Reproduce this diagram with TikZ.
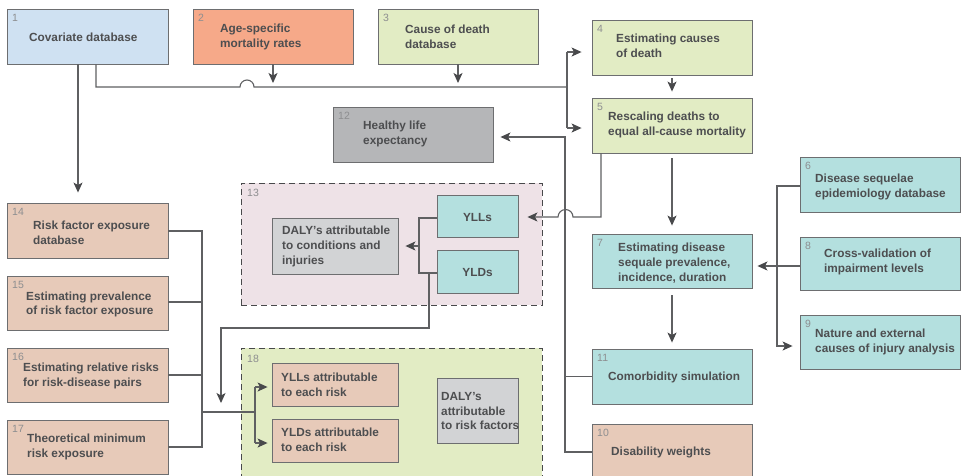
\documentclass[tikz,border=0pt]{standalone}
\usepackage{fontspec}
\setmainfont{Liberation Sans}
\usetikzlibrary{arrows.meta,fit}
\definecolor{cblue}{HTML}{CFE1F2}
\definecolor{csalmon}{HTML}{F6A989}
\definecolor{cgreen}{HTML}{E2ECC4}
\definecolor{cgray}{HTML}{B5B6B8}
\definecolor{cpink}{HTML}{EEE2E7}
\definecolor{cteal}{HTML}{B4E0DF}
\definecolor{ctan}{HTML}{E7CAB9}
\definecolor{clgray}{HTML}{D2D3D5}
\definecolor{cborder}{HTML}{6D6E70}
\definecolor{cline}{HTML}{5F6062}
\definecolor{carrow}{HTML}{48494B}
\definecolor{ctext}{HTML}{4D4E50}
\definecolor{cnum}{HTML}{8D8E90}
\newcommand\gbox[6]{\node[box, fill=#6, fit={(#2,#3) (#4,#5)}] (#1) {};}
\newcommand\gdash[6]{\node[dbox, fill=#6, fit={(#2,#3) (#4,#5)}] (#1) {};}
\begin{document}
\begin{tikzpicture}[x=1pt,y=-1pt,
  box/.style={draw=cborder, line width=0.9pt, inner sep=0pt, rectangle},
  dbox/.style={draw=carrow, line width=1pt, dash pattern=on 6pt off 4pt, inner sep=0pt, rectangle},
  txt/.style={anchor=west, inner sep=0pt, align=left, text=ctext,
    font=\fontsize{11.8}{14.8}\selectfont\bfseries},
  num/.style={anchor=north west, inner sep=0pt, text=cnum,
    font=\fontsize{10.5}{12}\selectfont},
  line/.style={draw=cline, line width=1.1pt},
  arr/.style={line, -{Stealth[length=10pt,width=9pt,inset=2.5pt,color=carrow]}}]
\clip (0,0) rectangle (963,475);
\fill[white] (0,0) rectangle (963,475);
% groups
\gdash{g13}{241}{183}{542}{305}{cpink}
\gdash{g18}{241}{348}{542}{490}{cgreen}
% boxes
\gbox{b1}{7}{9}{168}{64}{cblue}
\gbox{b2}{193}{9}{353}{64}{csalmon}
\gbox{b3}{378}{9}{538}{64}{cgreen}
\gbox{b4}{592}{20}{752}{75}{cgreen}
\gbox{b5}{592}{98}{752}{153}{cgreen}
\gbox{b12}{333}{107}{493}{162}{cgray}
\gbox{yll}{437}{195}{518}{237}{cteal}
\gbox{yld}{437}{250}{518}{293}{cteal}
\gbox{d13}{272}{218}{398}{274}{clgray}
\gbox{b6}{800}{157}{960}{212}{cteal}
\gbox{b7}{592}{234}{752}{288}{cteal}
\gbox{b8}{800}{237}{960}{290}{cteal}
\gbox{b9}{800}{315}{960}{369}{cteal}
\gbox{b11}{592}{349}{752}{404}{cteal}
\gbox{b10}{592}{424}{752}{480}{ctan}
\gbox{b14}{7}{203}{168}{258}{ctan}
\gbox{b15}{7}{276}{168}{330}{ctan}
\gbox{b16}{7}{348}{168}{402}{ctan}
\gbox{b17}{7}{420}{168}{474}{ctan}
\gbox{ylla}{272}{363}{398}{406}{ctan}
\gbox{ylda}{272}{419}{398}{462}{ctan}
\gbox{d18}{437}{378}{518}{443}{clgray}
% texts
\node[txt] (b1t) at (29,37) {Covariate database};
\node[txt] (b2t) at (220,37) {Age-specific\\mortality rates};
\node[txt] (b3t) at (405,37) {Cause of death\\database};
\node[txt] (b4t) at (616,46) {Estimating causes\\of death};
\node[txt] (b5t) at (608,125) {Rescaling deaths to\\equal all-cause mortality};
\node[txt] (b12t) at (363,134) {Healthy life\\expectancy};
\node[txt, anchor=center] (yllt) at (477.5,217) {YLLs};
\node[txt, anchor=center] (yldt) at (477.5,272) {YLDs};
\node[txt] (d13t) at (282,246.5) {DALY’s attributable\\to conditions and\\injuries};
\node[txt] (b6t) at (815,187) {Disease sequelae\\epidemiology database};
\node[txt] (b7t) at (618,263) {Estimating disease\\sequale prevalence,\\incidence, duration};
\node[txt] (b8t) at (824,262) {Cross-validation of\\impairment levels};
\node[txt] (b9t) at (815,342) {Nature and external\\causes of injury analysis};
\node[txt] (b11t) at (608,377) {Comorbidity simulation};
\node[txt] (b10t) at (611,452) {Disability weights};
\node[txt] (b14t) at (33,233) {Risk factor exposure\\database};
\node[txt] (b15t) at (26,304.5) {Estimating prevalence\\of risk factor exposure};
\node[txt] (b16t) at (23,376) {Estimating relative risks\\for risk-disease pairs};
\node[txt] (b17t) at (27,447) {Theoretical minimum\\risk exposure};
\node[txt] (ylat) at (281,385) {YLLs attributable\\to each risk};
\node[txt] (ydat) at (281,440) {YLDs attributable\\to each risk};
\node[txt] (d18t) at (441,411) {DALY’s\\attributable\\to risk factors};
% numbers
\node[num] (b1n) at (12,14) {1};
\node[num] (b2n) at (198,14) {2};
\node[num] (b3n) at (383,14) {3};
\node[num] (b4n) at (597,25) {4};
\node[num] (b5n) at (597,103) {5};
\node[num] (b6n) at (805,162) {6};
\node[num] (b7n) at (597,239) {7};
\node[num] (b8n) at (805,242) {8};
\node[num] (b9n) at (805,320) {9};
\node[num] (b10n) at (597,429) {10};
\node[num] (b11n) at (597,354) {11};
\node[num] (b12n) at (338,112) {12};
\node[num] (g13n) at (247,189) {13};
\node[num] (b14n) at (12,208) {14};
\node[num] (b15n) at (12,281) {15};
\node[num] (b16n) at (12,353) {16};
\node[num] (b17n) at (12,425) {17};
\node[num] (g18n) at (247,355) {18};
% junction coordinates
\coordinate (j1) at (78,0);
\coordinate (j2) at (96,87);
\coordinate (j3) at (567,87);
\coordinate (k4) at (567,52);
\coordinate (k5) at (567,128);
\coordinate (j4) at (273,0);
\coordinate (j4b) at (458,0);
\coordinate (j5) at (601,217);
\coordinate (j6) at (565,137);
\coordinate (j7) at (565,452);
\coordinate (j8) at (419,246);
\coordinate (j8a) at (419,218);
\coordinate (j8b) at (419,273);
\coordinate (j9) at (429,273);
\coordinate (j10) at (429,328);
\coordinate (j11) at (221,328);
\coordinate (j12) at (255,412);
\coordinate (r1) at (202,231);
\coordinate (r2) at (202,302);
\coordinate (r3) at (202,375);
\coordinate (r4) at (202,447);
\coordinate (r5) at (202,412);
\coordinate (a1) at (255,387);
\coordinate (a2) at (255,443);
\coordinate (s1) at (777,186);
\coordinate (s2) at (777,346);
\coordinate (s3) at (777,266);
% connectors
\draw[arr, shorten >=10pt] (b1.south -| j1) -- (b14.north -| j1);
\draw[line] (b1.south -| j2) -- (j2) -- (240,87) arc[start angle=180, end angle=0, radius=7pt] -- (j3);
\draw[line] (k4) -- (k5);
\draw[arr, shorten >=10pt] (k4) -- (k4 -| b4.west);
\draw[arr, shorten >=10pt] (k5) -- (k5 -| b5.west);
\draw[arr, shorten >=4pt] (b2.south -| j4) -- (j4 |- j2);
\draw[arr, shorten >=4pt] (b3.south -| j4b) -- (j4b |- j2);
\draw[arr, shorten <=3pt, shorten >=6pt] (b4.south) -- (b5.north);
\draw[arr, shorten <=5pt, shorten >=8pt] (b5.south) -- (b7.north);
\draw[arr, shorten >=9pt] (b5.south -| j5) -- (j5) -- (573,217) arc[start angle=0, end angle=180, radius=7.5pt] -- (yll.east |- j5);
\draw[arr, shorten >=7pt] (b10.west |- j7) -- (j7) -- (j6) -- (b12.east |- j6);
\draw[line] (b11.west) -- (b11.west -| j6);
\draw[line] (yll.west |- j8a) -- (j8a) -- (j8b) -- (yld.west |- j8b);
\draw[arr, shorten >=7pt] (j8) -- (d13.east |- j8);
\draw[arr, shorten >=9pt] (j9) -- (j10) -- (j11) -- (j11 |- j12);
\draw[line] (b14.east |- r1) -- (r1) -- (r4) -- (b17.east |- r4);
\draw[line] (b15.east |- r2) -- (r2);
\draw[line] (b16.east |- r3) -- (r3);
\draw[line] (r5) -- (j12);
\draw[line] (a1) -- (a2);
\draw[arr, shorten >=4pt] (a1) -- (ylla.west |- a1);
\draw[arr, shorten >=4pt] (a2) -- (ylda.west |- a2);
\draw[arr, shorten >=7pt] (b6.west |- s1) -- (s1) -- (s2) -- (b9.west |- s2);
\draw[arr, shorten >=5pt] (b8.west |- s3) -- (b7.east |- s3);
\draw[arr, shorten <=7pt, shorten >=6pt] (b7.south) -- (b11.north);
\end{tikzpicture}
\end{document}
